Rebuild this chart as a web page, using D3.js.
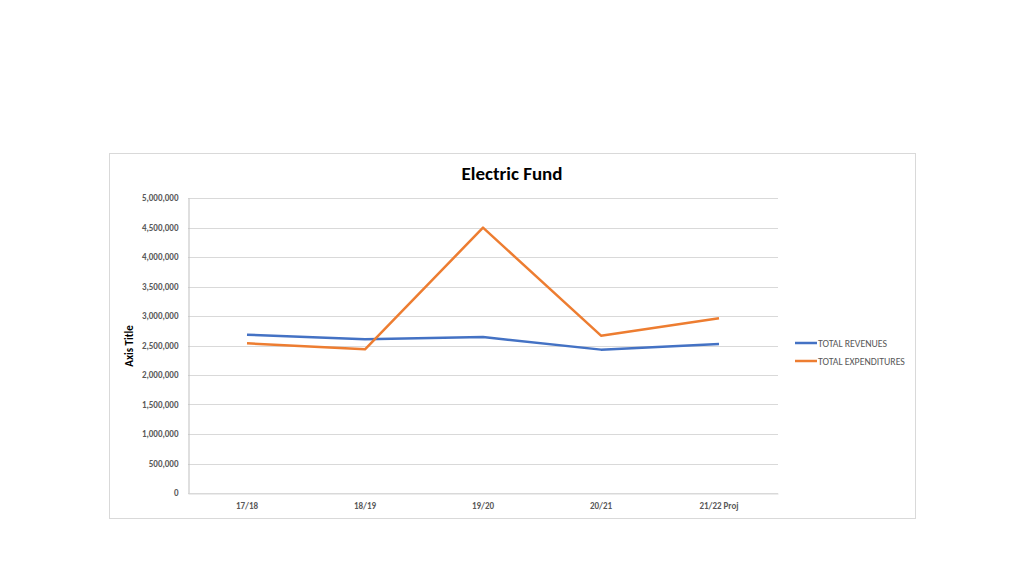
<!DOCTYPE html>
<html><head><meta charset="utf-8">
<script src="https://cdn.jsdelivr.net/npm/d3@7"></script>
<style>body{margin:0;background:#fff;}svg{display:block;font-family:Carlito,Calibri,"Open Sans",sans-serif;}</style>
</head><body>
<svg id="c" width="1024" height="576"></svg>
<script>
const categories = ["17/18","18/19","19/20","20/21","21/22 Proj"];
const revenues = [2683000, 2605000, 2644000, 2430000, 2525000];
const expenditures = [2537000, 2436000, 4497000, 2667000, 2960000];
const yTicks = [0,500000,1000000,1500000,2000000,2500000,3000000,3500000,4000000,4500000,5000000];
const seriesNames = ["TOTAL REVENUES","TOTAL EXPENDITURES"];
const colors = ["#4472C4","#ED7D31"];

const svg = d3.select("#c");
svg.append("rect").attr("x",109.5).attr("y",153.5).attr("width",806).attr("height",365)
  .attr("fill","#fff").attr("stroke","#d9d9d9");

const L=188,R=778,T=198,B=493;
const x = d3.scaleBand().domain(categories).range([L,R]);
const y = d3.scaleLinear().domain([0,5000000]).range([B,T]);

// gridlines
svg.append("g").selectAll("line").data(yTicks).join("line")
  .attr("x1",L).attr("x2",R).attr("y1",d=>Math.round(y(d))+0.5).attr("y2",d=>Math.round(y(d))+0.5)
  .attr("stroke","#d9d9d9").attr("stroke-width",1);

// y axis
const ya = svg.append("g").attr("transform",`translate(${L+0.5},0)`)
  .call(d3.axisLeft(y).tickValues(yTicks).tickFormat(d3.format(",")).tickSize(0).tickPadding(10));
ya.select(".domain").attr("stroke","#bfbfbf");
ya.selectAll("text").attr("font-size",9).attr("font-weight","bold").attr("fill","#595959")
  .style("font-family",'Carlito,Calibri,"Open Sans",sans-serif');

// x axis
const xa = svg.append("g").attr("transform",`translate(0,${B+0.5})`)
  .call(d3.axisBottom(x).tickSize(0).tickPadding(9));
xa.select(".domain").attr("stroke","#d9d9d9");
xa.selectAll("text").attr("font-size",9).attr("font-weight","bold").attr("fill","#595959")
  .style("font-family",'Carlito,Calibri,"Open Sans",sans-serif');

// lines
const line = d3.line().x((d,i)=>x(categories[i])+x.bandwidth()/2).y(d=>y(d));
[revenues,expenditures].forEach((s,i)=>{
  svg.append("path").datum(s).attr("d",line).attr("fill","none")
    .attr("stroke",colors[i]).attr("stroke-width",2.5).attr("stroke-linejoin","round");
});

// title
svg.append("text").attr("x",512).attr("y",180).attr("text-anchor","middle")
  .attr("font-size",19).attr("font-weight","bold").attr("fill","#000").text("Electric Fund");

// axis title
svg.append("text").attr("transform","translate(133,346) rotate(-90)").attr("text-anchor","middle")
  .attr("font-size",11).attr("font-weight","bold").attr("fill","#000").text("Axis Title");

// legend
seriesNames.forEach((n,i)=>{
  const ly = 343 + i*18;
  svg.append("line").attr("x1",795).attr("x2",817).attr("y1",ly).attr("y2",ly)
    .attr("stroke",colors[i]).attr("stroke-width",2.5);
  svg.append("text").attr("x",818).attr("y",ly+3.5).attr("font-size",9.8).attr("fill","#595959").text(n);
});
</script>
</body></html>
